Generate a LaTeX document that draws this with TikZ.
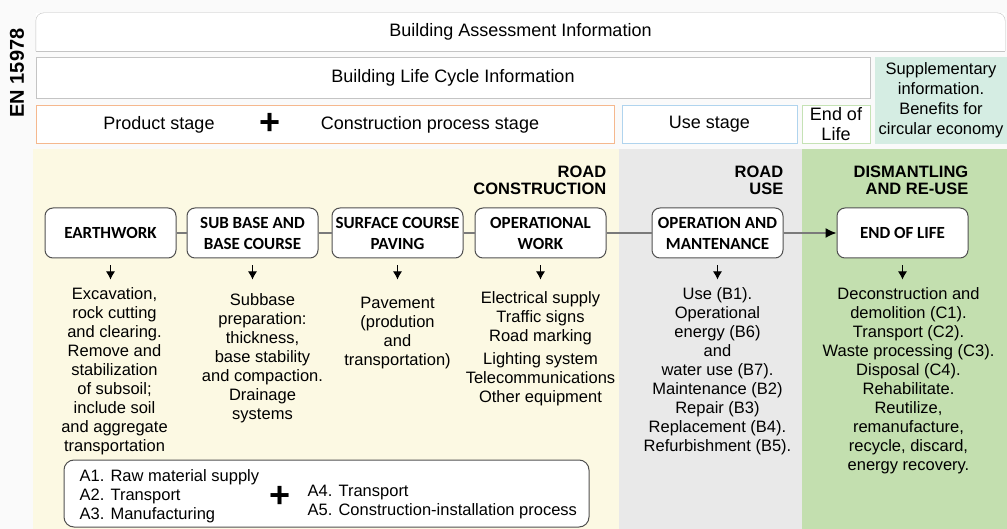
\documentclass[tikz,border=0pt]{standalone}
\usepackage{fontspec}
\setmainfont{Liberation Sans}
\newfontfamily\carlito{Carlito}
\usepackage{tikz}
\usetikzlibrary{arrows.meta}
\usetikzlibrary{positioning}
\definecolor{pagebg}{HTML}{FAFAFA}
\definecolor{bandyellow}{HTML}{FCF9E3}
\definecolor{bandgray}{HTML}{E9E9E9}
\definecolor{bandgreen}{HTML}{C3DFAF}
\definecolor{supplteal}{HTML}{D5EDE3}
\definecolor{framegray}{HTML}{C4C4C4}
\definecolor{prodorange}{HTML}{F5B88E}
\definecolor{useblue}{HTML}{B0D4EE}
\definecolor{eolgreen}{HTML}{C5E2B5}
\definecolor{boxline}{HTML}{505050}
\definecolor{linkgray}{HTML}{7A7A7A}
\tikzset{auto,>={Latex[length=8pt,width=9pt]}, x=1pt, y=-1pt, node distance=1cm, font=\fontsize{16.5}{19}\selectfont}
\tikzstyle{frame} = [draw=framegray, fill=white, rectangle, inner sep=0pt, font=\fontsize{18}{20}\selectfont]
\tikzstyle{stage} = [draw=boxline, fill=white, rectangle, rounded corners=8pt, line width=1pt, minimum width=131pt, minimum height=50pt, inner sep=0pt, text centered, align=center, font=\carlito\bfseries\fontsize{17}{21}\selectfont]
\tikzstyle{head} = [align=right, inner sep=0pt, anchor=south east, font=\bfseries\fontsize{16.5}{17}\selectfont]
\tikzstyle{desc} = [align=center, inner sep=0pt, anchor=north]
\tikzstyle{list} = [align=left, inner sep=0pt, anchor=west]
\tikzstyle{plus} = [inner sep=0pt, font=\bfseries\fontsize{36}{36}\selectfont]
\tikzstyle{link} = [draw=linkgray, line width=1.5pt]
\tikzstyle{down} = [->, line width=1pt]

\begin{document}
\begin{tikzpicture}
    \useasboundingbox (0,0) rectangle (1007,529);
    \fill[pagebg] (0,0) rectangle (1007,529);
    % colour bands
    \fill[bandyellow] (33,149) rectangle (619,529);
    \fill[bandgray] (619,149) rectangle (802,529);
    \fill[bandgreen] (802,149) rectangle (1007,529);

    % EN 15978 frame
    \node [rotate=90, font=\bfseries\fontsize{20}{20}\selectfont] (en) at (17,73) {EN 15978};
    \node [frame, draw=none, minimum width=969pt, minimum height=38pt] (assess) at (520.5,32) {Building Assessment Information};
    \draw [framegray, rounded corners=8pt] (assess.south west) -- (assess.north west) -- (assess.north east) -- (assess.south east);
    \draw [framegray] (assess.south west) -- (assess.south east);
    \node [frame, minimum width=834pt, minimum height=41pt] (lifecycle) at (453,77.5) {Building Life Cycle Information};
    \node [frame, draw=none, fill=supplteal, minimum width=132pt, minimum height=87pt, align=center, font=\fontsize{16.5}{20}\selectfont] (suppl) at (941,100.5) {Supplementary\\information.\\Benefits for\\circular economy};
    \node [frame, draw=prodorange, minimum width=578pt, minimum height=38pt] (prodst) at (325,124) {};
    \node [plus] (stplus) at (270,124) {+};
    \node [font=\fontsize{18}{20}\selectfont] (prodlbl) at (159,125) {Product stage};
    \node [font=\fontsize{18}{20}\selectfont] (conlbl) at (430,125) {Construction process stage};
    \node [frame, draw=useblue, minimum width=175pt, minimum height=38pt] (usest) at (709.5,124) {Use stage};
    \node [frame, draw=eolgreen, minimum width=68pt, minimum height=38pt, align=center] (eolst) at (836,124) {End of\\Life};

    % road stages
    \node [stage] (earth) at (110.5,233) {EARTHWORK};
    \node [stage, right=10pt of earth] (subbase) {SUB BASE AND\\BASE COURSE};
    \node [stage, right=13pt of subbase] (surface) {SURFACE COURSE\\PAVING};
    \node [stage, right=11pt of surface] (opwork) {OPERATIONAL\\WORK};
    \node [stage, right=45pt of opwork] (opmaint) {OPERATION AND\\MANTENANCE};
    \node [stage, right=53pt of opmaint] (eol) {END OF LIFE};

    \node [head] (hcons) at ([yshift=13pt]opwork.north east) {ROAD\\CONSTRUCTION};
    \node [head] (huse) at ([yshift=13pt]opmaint.north east) {ROAD\\USE};
    \node [head] (hdism) at ([yshift=13pt]eol.north east) {DISMANTLING\\AND RE-USE};

    \draw [link] (earth) -- (subbase);
    \draw [link] (subbase) -- (surface);
    \draw [link] (surface) -- (opwork);
    \draw [link] (opwork) -- (opmaint);
    \draw [link,-{Latex[length=11pt,width=10pt,color=black]}] (opmaint) -- (eol);

    % descriptions
    \node [desc, below=29pt of earth, xshift=4pt] (earthtxt) {Excavation,\\rock cutting\\and clearing.\\Remove and\\stabilization\\of subsoil;\\include soil\\and aggregate\\transportation};
    \node [desc, below=35pt of subbase, xshift=10pt] (subtxt) {Subbase\\preparation:\\thickness,\\base stability\\and compaction.\\Drainage\\systems};
    \node [desc, below=38pt of surface] (surftxt) {Pavement\\(prodution\\and\\transportation)};
    \node [desc, below=33pt of opwork] (optxt) {Electrical supply\\Traffic signs\\Road marking\\[4pt]Lighting system\\Telecommunications\\Other equipment};
    \node [desc, below=29pt of opmaint] (usetxt) {Use (B1).\\Operational\\energy (B6)\\and\\water use (B7).\\Maintenance (B2)\\Repair (B3)\\Replacement (B4).\\Refurbishment (B5).};
    \node [desc, below=29pt of eol, xshift=6pt] (eoltxt) {Deconstruction and\\demolition (C1).\\Transport (C2).\\Waste processing (C3).\\Disposal (C4).\\Rehabilitate.\\Reutilize,\\remanufacture,\\recycle, discard,\\energy recovery.};

    \foreach \s in {earth,subbase,surface,opwork,opmaint,eol}
        \draw [down] ([yshift=-7pt]\s.south) -- ([yshift=-21pt]\s.south);

    % modules A1-A5
    \node [draw=boxline, fill=white, rounded corners=10pt, line width=1pt, minimum width=525pt, minimum height=67pt] (amods) at (326.5,493.5) {};
    \node [list] (prodlist) at ([xshift=16pt,yshift=-2.5pt]amods.west) {A1. Raw material supply\\A2. Transport\\A3. Manufacturing};
    \node [plus] (aplus) at (280,497) {+};
    \node [list] (conlist) at ([xshift=244pt,yshift=-8.5pt]amods.west) {A4. Transport\\A5. Construction-installation process};
\end{tikzpicture}
\end{document}
